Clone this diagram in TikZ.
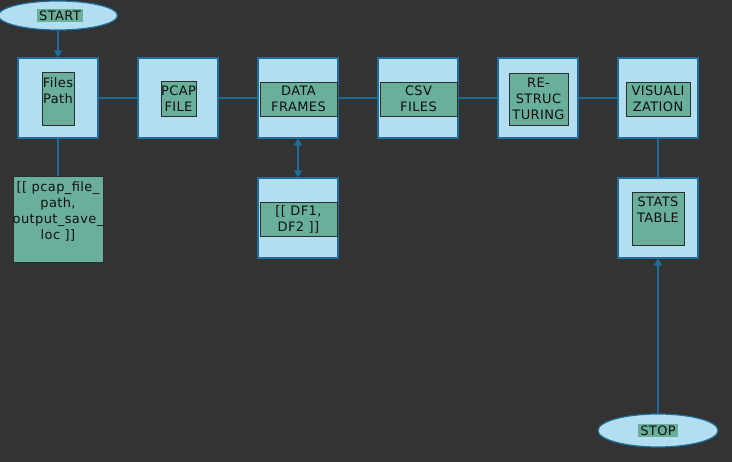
\documentclass[tikz,border=0pt]{standalone}
\usepackage{fontspec}
\setmainfont{DejaVu Sans}[LetterSpace=3]
\usetikzlibrary{shapes.geometric,arrows.meta}
\definecolor{bg}{HTML}{333333}
\definecolor{outerfill}{HTML}{B3DEF1}
\definecolor{outerdraw}{HTML}{1E6E99}
\definecolor{innerfill}{HTML}{6AAE9C}
\definecolor{innerdraw}{HTML}{26302D}
\definecolor{wirecol}{HTML}{1C6D98}
\definecolor{txt}{HTML}{101010}
\begin{document}
\begin{tikzpicture}[x=1pt,y=-1pt,
  font=\fontsize{13}{16}\selectfont,
  outerbox/.style={draw=outerdraw, fill=outerfill, line width=1.2pt, minimum width=80pt, minimum height=80pt, inner sep=0pt},
  innerbox/.style={draw=innerdraw, fill=innerfill, line width=0.8pt, inner sep=0pt},
  label/.style={align=center, text=txt, inner sep=0pt},
  term/.style={ellipse, draw=outerdraw, fill=outerfill, line width=1.2pt, inner sep=0pt},
  hl/.style={fill=innerfill, text=txt, inner sep=2pt},
  wire/.style={draw=wirecol, line width=1.3pt},
  tip/.style={-{Triangle[length=7pt,width=8pt]}}
]
\fill[bg] (0,0) rectangle (732,462);
\useasboundingbox (0,0) rectangle (732,462);

% outer boxes
\node[outerbox] (files) at (58,98) {};
\node[outerbox] (pcap) at (178,98) {};
\node[outerbox] (df) at (298,98) {};
\node[outerbox] (csv) at (418,98) {};
\node[outerbox] (rest) at (538,98) {};
\node[outerbox] (vis) at (658,98) {};
\node[outerbox] (dfl) at (298,218) {};
\node[outerbox] (stats) at (658,218) {};

% terminals
\node[term, minimum width=119pt, minimum height=29pt] (start) at (58,15.5) {};
\node[hl] (starttxt) at (60,15.5) {START};
\node[term, minimum width=120pt, minimum height=33pt] (stop) at (658,430.5) {};
\node[hl] (stoptxt) at (658,430.5) {STOP};

% inner boxes
\node[innerbox, minimum width=32pt, minimum height=53pt] (filesin) at (58,98.5) {};
\node[label] (filestxt) at (58,91) {Files\\Path};
\node[innerbox, minimum width=35pt, minimum height=35pt] (pcapin) at (178.5,98.5) {};
\node[label] (pcaptxt) at (178.5,98.5) {PCAP\\FILE};
\node[innerbox, minimum width=77pt, minimum height=34pt] (dfin) at (298.5,99) {};
\node[label] (dftxt) at (298.5,99) {DATA\\FRAMES};
\node[innerbox, minimum width=77pt, minimum height=34pt] (csvin) at (418.5,99) {};
\node[label] (csvtxt) at (418.5,99) {CSV\\FILES};
\node[innerbox, minimum width=59pt, minimum height=52pt] (restin) at (538.5,99) {};
\node[label] (resttxt) at (538.5,99) {RE-\\STRUC\\TURING};
\node[innerbox, minimum width=64pt, minimum height=34pt] (visin) at (658,99) {};
\node[label] (vistxt) at (658,99) {VISUALI\\ZATION};
\node[innerbox, minimum width=77pt, minimum height=34pt] (dflin) at (298.5,219) {};
\node[label] (dfltxt) at (298.5,219) {[[ DF1,\\DF2 ]]};
\node[innerbox, minimum width=52pt, minimum height=53pt] (statsin) at (658,218.5) {};
\node[label] (statstxt) at (658,210) {STATS\\TABLE};
\node[innerbox, minimum width=90pt, minimum height=86pt] (args) at (58,219) {};
\node[label] (argstxt) at (58,211) {[[ pcap\_file\_\\path,\\output\_save\_\\loc ]]};

% connectors
\draw[wire,tip] (start) -- (files);
\draw[wire] (files) -- (pcap);
\draw[wire] (pcap) -- (df);
\draw[wire] (df) -- (csv);
\draw[wire] (csv) -- (rest);
\draw[wire] (rest) -- (vis);
\draw[wire] (files) -- (args);
\draw[wire,{Triangle[length=7pt,width=8pt]}-{Triangle[length=7pt,width=8pt]}] (df) -- (dfl);
\draw[wire] (vis) -- (stats);
\draw[wire,tip] (stop) -- (stats);
\end{tikzpicture}
\end{document}
